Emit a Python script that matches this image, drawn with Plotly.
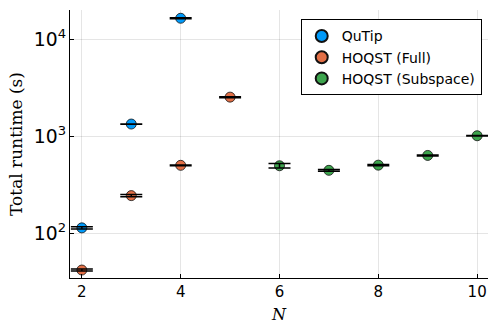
import plotly.graph_objects as go

# Data
qutip_n = [2, 3, 4]
qutip_t = [113, 1330, 16400]
qutip_err = [3, 5, 150]

full_n = [2, 3, 4, 5]
full_t = [41.5, 243, 499, 2520]
full_err = [1.0, 7, 5, 30]

sub_n = [6, 7, 8, 9, 10]
sub_t = [494, 443, 501, 631, 1007]
sub_err = [26, 10, 7, 8, 6]

names = ["QuTip", "HOQST (Full)", "HOQST (Subspace)"]
colors = ["#009AFA", "#E26F46", "#3DA44D"]
series = [(qutip_n, qutip_t, qutip_err), (full_n, full_t, full_err), (sub_n, sub_t, sub_err)]

fig = go.Figure()
for (xs, ys, es), name, col in zip(series, names, colors):
    fig.add_trace(go.Scatter(
        x=xs, y=ys, mode="markers", name=name,
        marker=dict(size=10, color=col, line=dict(color="#111111", width=0.8)),
    ))
# error bars drawn on top of markers
for (xs, ys, es) in series:
    fig.add_trace(go.Scatter(
        x=xs, y=ys, mode="markers", showlegend=False, hoverinfo="skip",
        marker=dict(size=1, opacity=0),
        error_y=dict(type="data", array=es, visible=True, color="black", thickness=1.5, width=11),
    ))

axis_common = dict(
    showline=True, linecolor="black", linewidth=1, mirror=False,
    showgrid=True, gridcolor="rgba(0,0,0,0.1)", gridwidth=0.5,
    ticks="inside", ticklen=4, tickcolor="black",
    tickfont=dict(family="DejaVu Sans", size=15, color="black"),
    zeroline=False,
)

fig.update_layout(
    width=490, height=329,
    margin=dict(l=70, r=2, t=10, b=51),
    paper_bgcolor="white", plot_bgcolor="white",
    xaxis=dict(range=[1.76, 10.22], tickvals=[2, 4, 6, 8, 10],
               title=dict(text="<i>N</i>", font=dict(family="DejaVu Serif", size=16, color="black"), standoff=8),
               **axis_common),
    yaxis=dict(type="log", range=[1.536, 4.30], dtick=1, exponentformat="power",
               title=dict(text="Total runtime (s)", font=dict(family="DejaVu Serif", size=17, color="black"), standoff=6),
               **axis_common),
    legend=dict(x=0.985, y=0.965, xanchor="right", yanchor="top",
                bgcolor="white", bordercolor="black", borderwidth=1,
                font=dict(family="DejaVu Sans", size=14, color="black"),
                tracegroupgap=0, itemsizing="constant"),
    showlegend=True,
)

fig.write_html("out.html", config={"displayModeBar": False},
               post_script="document.body.style.margin='0';document.body.style.padding='0';")
